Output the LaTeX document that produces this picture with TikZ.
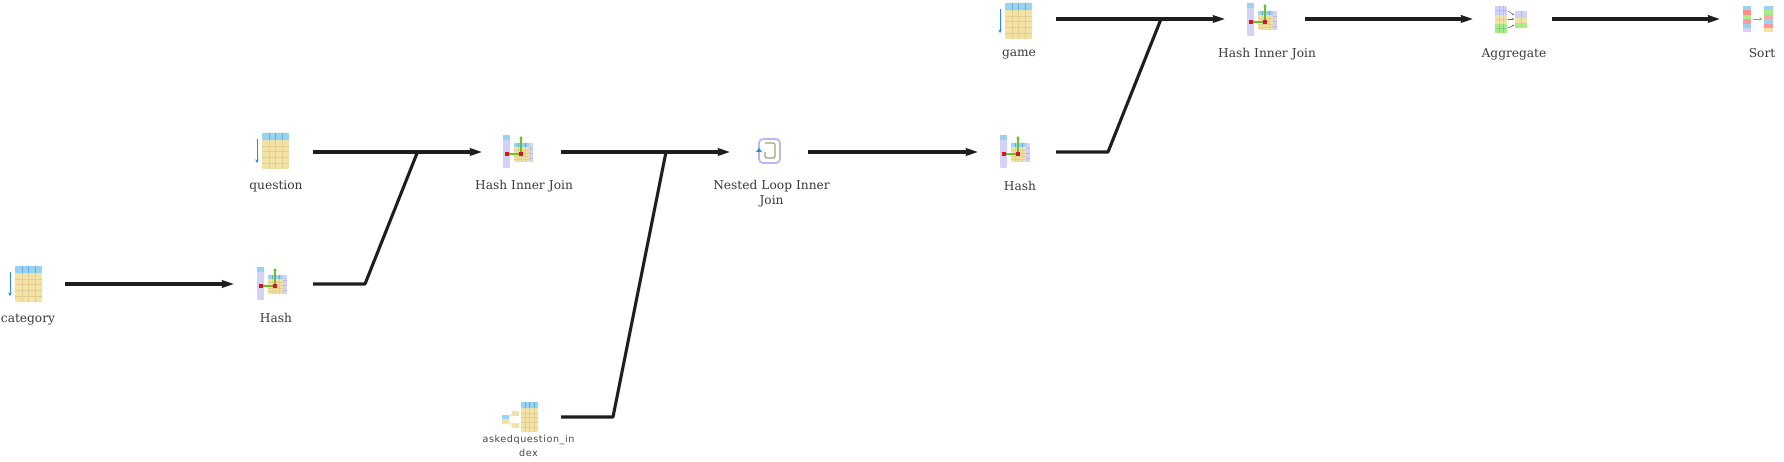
\documentclass[tikz,border=0pt]{standalone}
\usepackage{fontspec}
\setmainfont{DejaVu Serif}
\newfontfamily\idxfont[LetterSpace=6]{DejaVu Sans}
\usetikzlibrary{arrows.meta}
\definecolor{cellc}{HTML}{F2E2A6}
\definecolor{cellline}{HTML}{E2CE8E}
\definecolor{headc}{HTML}{9AD2F2}
\definecolor{headline}{HTML}{5FAEDD}
\definecolor{lavc}{HTML}{D2D2F6}
\definecolor{lavline}{HTML}{B8B8EE}
\definecolor{flowblue}{HTML}{2A8AD0}
\definecolor{hgreen}{HTML}{6DBE2E}
\definecolor{hashred}{HTML}{D8141E}
\definecolor{lgreen}{HTML}{A8EE88}
\definecolor{wire}{HTML}{1E1E1E}
\tikzset{
  x=1pt,y=-1pt,
  opbox/.style={inner sep=0pt,outer sep=0pt,minimum height=4pt},
  lbl/.style={font=\fontsize{12.2}{15}\selectfont,text=black!78,align=center,inner sep=0pt,text width=130pt},
  idxlbl/.style={font=\idxfont\fontsize{9.6}{13.5}\selectfont,text=black!72,align=center,inner sep=0pt,text width=110pt},
  flow/.style={draw=wire,line width=3.1pt,-{Stealth[length=12pt,width=7.5pt,inset=1pt]}},
  wirejoin/.style={draw=wire,line width=3.1pt,line join=round},
  pics/gridtable/.style n args={4}{code={
    \fill[cellc,rounded corners=.8pt] (#1,#2) rectangle (#3,#4);
    \pgfmathsetmacro\hh{(#4-#2)*.2}
    \fill[headc,rounded corners=.8pt] (#1,#2) rectangle (#3,#2+\hh);
    \foreach \i in {1,2,3}{
      \pgfmathsetmacro\xx{#1+(#3-#1)*\i/4}
      \draw[cellline,line width=.5pt] (\xx,#2+\hh) -- (\xx,#4);
      \draw[headline,line width=.5pt] (\xx,#2) -- (\xx,#2+\hh);
    }
    \foreach \i in {1,2,3,4}{
      \pgfmathsetmacro\yy{#2+\hh+(#4-#2-\hh)*\i/5}
      \draw[cellline,line width=.5pt] (#1,\yy) -- (#3,\yy);
    }
  }},
  pics/tableicon/.style={code={
    \pic {gridtable={7}{0}{34}{36}};
    \draw[flowblue,line width=.9pt,-{Stealth[length=3.5pt,width=3.5pt]}] (2,6) -- (2,30);
  }},
  pics/hashicon/.style={code={
    \fill[lavc,rounded corners=1pt] (0,0) rectangle (7,33);
    \fill[headc] (0,0) rectangle (7,5);
    \pic {gridtable={11}{8}{26}{27}};
    \fill[lavc] (26,8) rectangle (30,27);
    \draw[lavline,line width=.4pt] (26,13)--(30,13) (26,18)--(30,18) (26,23)--(30,23);
    \draw[hgreen,line width=1.3pt] (3.5,19) -- (18,19);
    \draw[hgreen,line width=1.1pt,-{Stealth[length=3pt,width=3.5pt]}] (18,19) -- (18,1);
    \fill[hashred] (1.5,17.2) rectangle (5.5,20.8);
    \fill[hashred] (16.2,17.2) rectangle (19.8,20.8);
  }},
  pics/nesticon/.style={code={
    \draw[lavline,line width=1.8pt,rounded corners=4pt] (1,1) rectangle (22,25);
    \draw[cellc!70!black,line width=1.1pt,rounded corners=1.5pt] (7,5) -- (17,5) -- (17,20) -- (7,20) -- (7,14);
    \fill[flowblue] (1,10) -- (4,14) -- (-2,14) -- cycle;
  }},
  pics/aggicon/.style={code={
    \fill[lavc] (0,0) rectangle (12,9);
    \fill[cellc] (0,9) rectangle (12,18);
    \fill[lgreen] (0,18) rectangle (12,27);
    \draw[lavline,line width=.4pt] (4,0)--(4,9) (8,0)--(8,9) (0,4.5)--(12,4.5);
    \draw[cellline,line width=.4pt] (4,9)--(4,18) (8,9)--(8,18) (0,13.5)--(12,13.5);
    \draw[green!60!black!50,line width=.4pt] (4,18)--(4,27) (8,18)--(8,27) (0,22.5)--(12,22.5);
    \fill[lavc] (20,5) rectangle (32,12);
    \fill[cellc] (20,12) rectangle (32,17);
    \fill[lgreen] (20,17) rectangle (32,22);
    \draw[lavline,line width=.4pt] (26,5)--(26,12);
    \draw[cellline,line width=.4pt] (26,12)--(26,17);
    \draw[black!60,line width=.5pt,-{Stealth[length=2pt,width=2pt]}] (13,5)--(19,9);
    \draw[black!60,line width=.5pt,-{Stealth[length=2pt,width=2pt]}] (13,13)--(19,13);
    \draw[black!60,line width=.5pt,-{Stealth[length=2pt,width=2pt]}] (13,22)--(19,19);
  }},
  pics/sorticon/.style={code={
    \foreach \k/\c in {0/headc,1/red!45,2/lgreen,3/red!40,4/headc,5/lavc}{
      \fill[\c] (0,\k*4.4) rectangle (8,\k*4.4+4.4);
    }
    \foreach \k/\c in {0/headc,1/lgreen,2/red!35,3/headc,4/red!40,5/cellc}{
      \fill[\c] (21,\k*4.4) rectangle (30,\k*4.4+4.4);
    }
    \draw[hgreen,line width=.9pt,-{Stealth[length=2.5pt,width=3pt]}] (10,13) -- (19,13);
  }},
  pics/indexicon/.style={code={
    \pic {gridtable={19}{0}{36}{30}};
    \fill[headc] (0,13) rectangle (7,17);
    \fill[cellc] (0,17) rectangle (7,22);
    \fill[cellc] (10,9) rectangle (17,14);
    \fill[cellc] (10,21) rectangle (17,26);
    \draw[cellline,line width=.5pt] (7,15)--(10,12) (7,19)--(10,23);
  }},
}
\begin{document}
\begin{tikzpicture}
\useasboundingbox (0,0) rectangle (1784,462);
% icons
\pic at (8,266) {tableicon};
\pic at (257,267) {hashicon};
\pic at (255,133) {tableicon};
\pic at (503,135) {hashicon};
\pic at (502,402) {indexicon};
\pic at (758,138) {nesticon};
\pic at (1000,135) {hashicon};
\pic at (998,3) {tableicon};
\pic at (1247,3) {hashicon};
\pic at (1495,6) {aggicon};
\pic at (1743,6) {sorticon};
% labels
\node[lbl] (lcategory) at (28,319.5) {category};
\node[lbl] (lhash1) at (276,317.5) {Hash};
\node[lbl] (lquestion) at (276,186) {question};
\node[lbl] (lhij1) at (524,186) {Hash Inner Join};
\node[idxlbl] (lindex) at (528.5,446) {askedquestion\_in\\dex};
\node[lbl] (lnest) at (771.5,193.5) {Nested Loop Inner\\Join};
\node[lbl] (lhash2) at (1020,185.5) {Hash};
\node[lbl] (lgame) at (1019,55) {game};
\node[lbl] (lhij2) at (1267,54.5) {Hash Inner Join};
\node[lbl] (lagg) at (1514,54.5) {Aggregate};
\node[lbl] (lsort) at (1762,53) {Sort};
% operator boxes: west = incoming tip, east = outgoing start
\node[opbox,minimum width=40pt] (category) at (45,284) {};
\node[opbox,minimum width=79pt] (hash1) at (273.5,284) {};
\node[opbox,minimum width=40pt] (question) at (293,152) {};
\node[opbox,minimum width=79pt] (hij1) at (521.5,152) {};
\node[opbox,minimum width=40pt] (index) at (541,417) {};
\node[opbox,minimum width=78pt] (nest) at (769,152) {};
\node[opbox,minimum width=78pt] (hash2) at (1017,152) {};
\node[opbox,minimum width=40pt] (game) at (1036,19) {};
\node[opbox,minimum width=80pt] (hij2) at (1265,19) {};
\node[opbox,minimum width=79pt] (agg) at (1512.5,19) {};
\node[opbox,minimum width=40pt] (sortop) at (1740,19) {};
\coordinate (j1) at (417.5,152);
\coordinate (b1) at (365,284);
\coordinate (j2) at (666,152);
\coordinate (b2) at (613,417);
\coordinate (j3) at (1161,19);
\coordinate (b3) at (1108,152);
% connectors
\draw[flow] (category.east) -- (hash1.west);
\draw[wirejoin] (hash1.east) -- (b1) -- (j1);
\draw[flow] (question.east) -- (hij1.west);
\draw[wirejoin] (index.east) -- (b2) -- (j2);
\draw[flow] (hij1.east) -- (nest.west);
\draw[flow] (nest.east) -- (hash2.west);
\draw[wirejoin] (hash2.east) -- (b3) -- (j3);
\draw[flow] (game.east) -- (hij2.west);
\draw[flow] (hij2.east) -- (agg.west);
\draw[flow] (agg.east) -- (sortop.west);
\end{tikzpicture}
\end{document}
